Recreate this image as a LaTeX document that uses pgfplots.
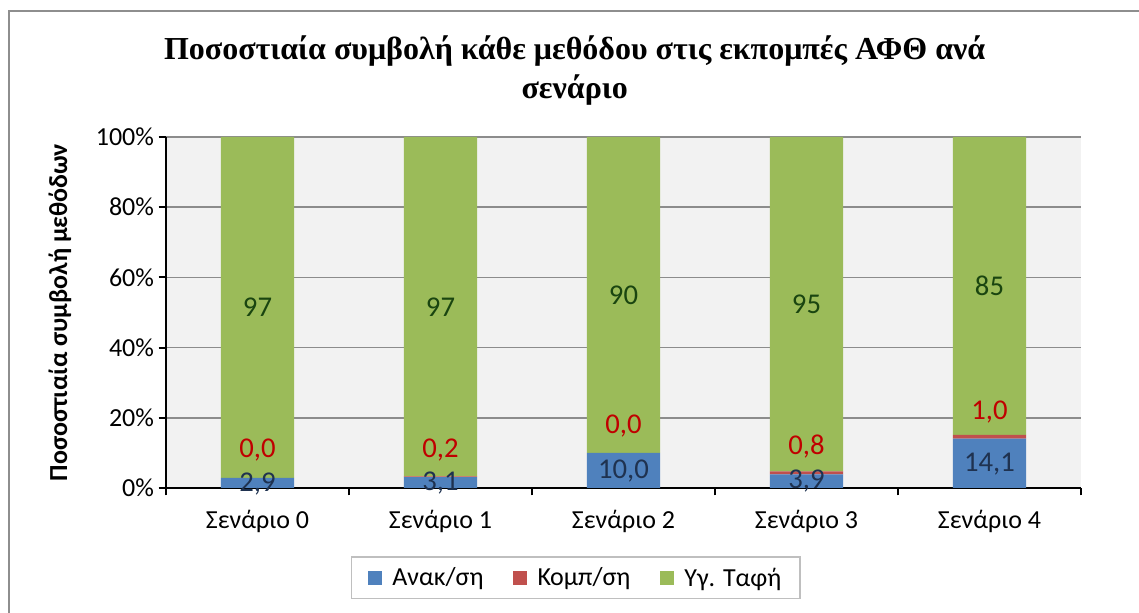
\documentclass[border=0pt]{standalone}
\usepackage{pgfplots}
\pgfplotsset{compat=1.18}
\usepackage{fontspec}
\setmainfont{Carlito}
\newfontfamily\titlefont{Liberation Serif}
\definecolor{cblue}{HTML}{4F81BD}
\definecolor{cred}{HTML}{C0504D}
\definecolor{cgreen}{HTML}{9BBB59}
\definecolor{lblue}{HTML}{1F3250}
\definecolor{lred}{HTML}{C00000}
\definecolor{lgreen}{HTML}{1A4510}
\definecolor{gridgray}{HTML}{8C8C8C}
\definecolor{bordergray}{HTML}{8E8E8E}
\pgfplotstableread{
x anak komp taf
0 2.9 0.0 97.1
1 3.1 0.2 96.7
2 10.0 0.0 90.0
3 3.9 0.8 95.3
4 14.1 1.0 84.9
}\datatable
\pgfplotstableread{
x y l
0 1.2 2,9
1 1.3 3,1
2 4.9 10,0
3 2.0 3,9
4 6.8 14,1
}\bluelabels
\pgfplotstableread{
x y l
0 10.8 0,0
1 10.8 0,2
2 17.7 0,0
3 11.7 0,8
4 21.6 1,0
}\redlabels
\pgfplotstableread{
x y l
0 51.45 97
1 51.65 97
2 55.0 90
3 52.35 95
4 57.55 85
}\greenlabels
\begin{document}
\begin{tikzpicture}
\useasboundingbox (0,0) rectangle (854.25pt,459.75pt);
\begin{scope}
\clip (0,0) rectangle (854.25pt,459.75pt);
\draw[bordergray, line width=1.5pt] (6.5pt,-5pt) -- (6.5pt,451.5pt) -- (860pt,451.5pt);
\end{scope}
\node[font=\titlefont\bfseries\fontsize{24}{29}\selectfont, align=center] at (431pt, 407pt) {Ποσοστιαία συμβολή κάθε μεθόδου στις εκπομπές ΑΦΘ ανά\\σενάριο};
\begin{axis}[
  at={(124.5pt,93.75pt)}, anchor=south west, scale only axis,
  width=686.25pt, height=263.25pt,
  ybar stacked, bar width=55pt,
  xmin=-0.5, xmax=4.5, ymin=0, ymax=100,
  axis lines*=left,
  axis line style={black, line width=1.8pt},
  axis background/.style={fill=gray!10},
  tick align=outside,
  major tick length=5.5pt,
  tick style={black, line width=1.5pt},
  xtick={-0.5,0.5,...,4.5}, xticklabels={},
  extra x ticks={0,1,2,3,4},
  extra x tick labels={Σενάριο 0,Σενάριο 1,Σενάριο 2,Σενάριο 3,Σενάριο 4},
  extra x tick style={major tick length=0pt, tick style={draw=none}},
  xticklabel style={yshift=-13pt},
  ytick={0,20,40,60,80,100},
  yticklabels={0\%,20\%,40\%,60\%,80\%,100\%},
  ymajorgrids,
  grid style={gridgray, line width=1.1pt},
  tick label style={font=\fontsize{19.5}{22}\selectfont},
  ylabel={\textbf{Ποσοστιαία συμβολή μεθόδων}},
  ylabel style={font=\fontsize{19.5}{22}\selectfont, at={(axis description cs:-0.1159,0.5)}, anchor=center},
  legend columns=3,
  legend style={at={(0.448,-0.256)}, anchor=center, draw=gray!50, line width=1pt,
    font=\fontsize{19.5}{22}\selectfont, inner xsep=12pt, inner ysep=6pt,
    /tikz/every odd column/.append style={column sep=6pt},
    /tikz/every even column/.append style={column sep=20pt}},
  legend image code/.code={\fill[#1] (0pt,-5pt) rectangle (10.5pt,5.5pt);},
]
\addplot[fill=cblue, draw=none] table[x=x,y=anak]{\datatable};
\addplot[fill=cred, draw=none] table[x=x,y=komp]{\datatable};
\addplot[fill=cgreen, draw=none] table[x=x,y=taf]{\datatable};
\legend{Ανακ/ση,Κομπ/ση,Υγ. Ταφή}
\end{axis}
\begin{axis}[
  at={(124.5pt,93.75pt)}, anchor=south west, scale only axis,
  width=686.25pt, height=263.25pt,
  xmin=-0.5, xmax=4.5, ymin=0, ymax=100,
  hide axis, clip=false,
  nodes near coords,
  point meta=explicit symbolic,
  every node near coord/.append style={anchor=center, font=\fontsize{21.5}{24}\selectfont},
]
\addplot[draw=none, every node near coord/.append style={text=lblue}] table[x=x,y=y,meta=l]{\bluelabels};
\addplot[draw=none, every node near coord/.append style={text=lred}] table[x=x,y=y,meta=l]{\redlabels};
\addplot[draw=none, every node near coord/.append style={text=lgreen}] table[x=x,y=y,meta=l]{\greenlabels};
\end{axis}
\end{tikzpicture}
\end{document}
